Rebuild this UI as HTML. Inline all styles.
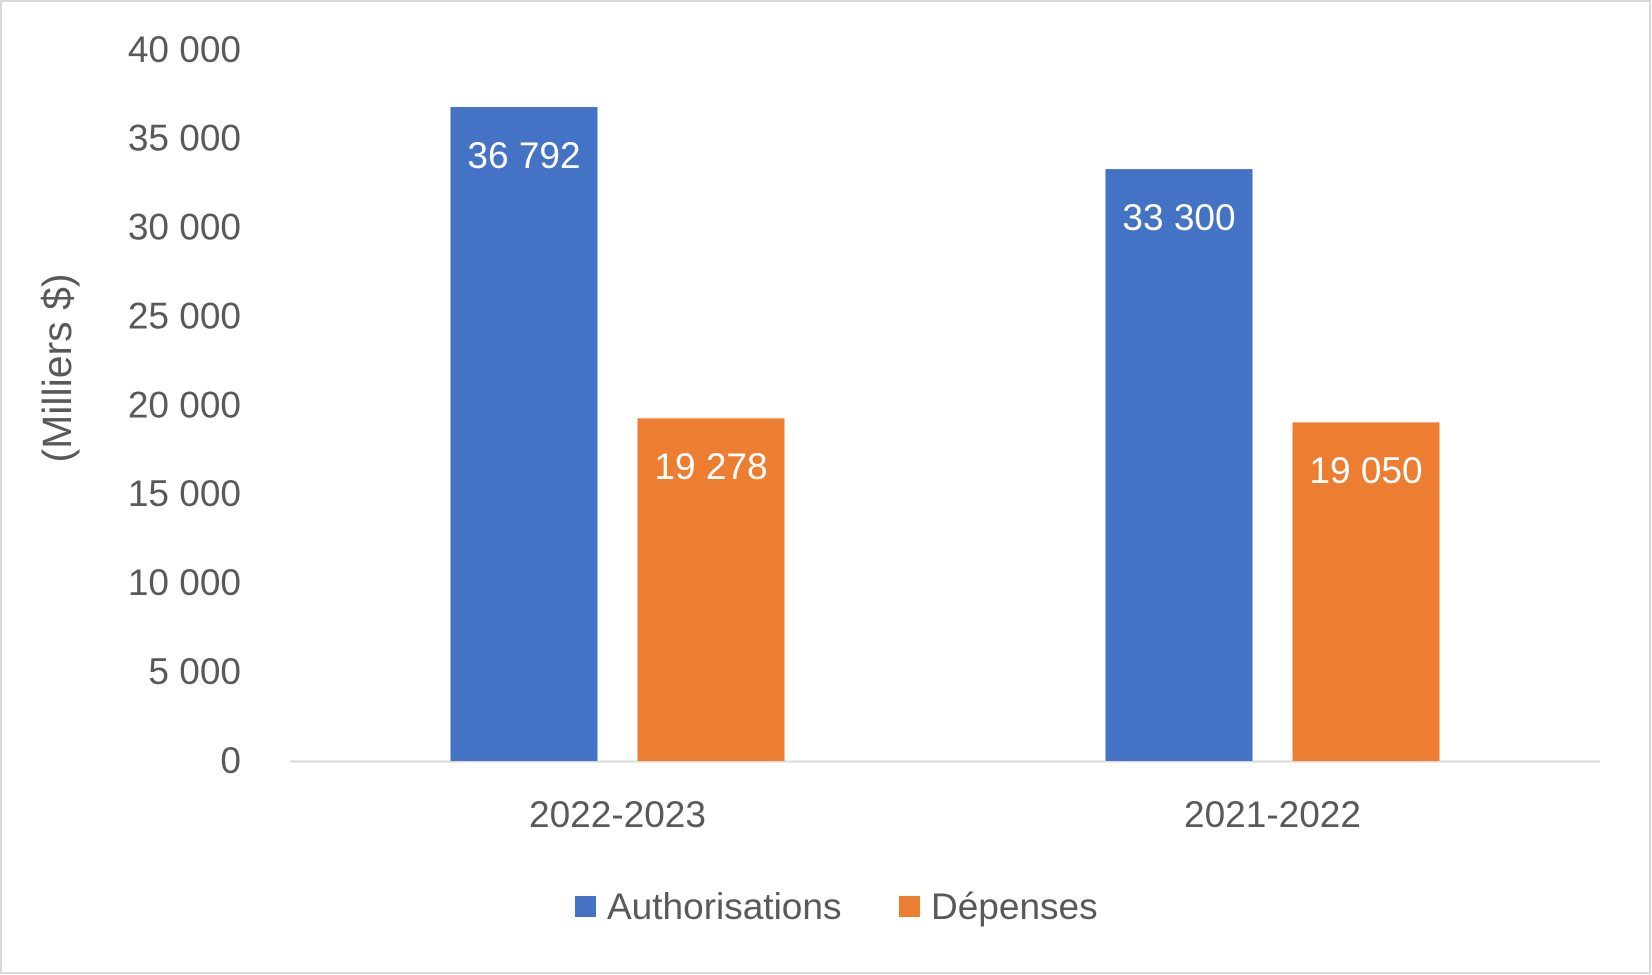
<!DOCTYPE html>
<html><head><meta charset="utf-8"><style>
html,body{margin:0;padding:0;background:#fff;}
svg{display:block;font-family:"Liberation Sans",sans-serif;}
</style></head><body>
<svg id="chart" width="1652" height="975">
<rect x="1" y="1" width="1649" height="972" fill="#fff" stroke="#d9d9d9" stroke-width="2"/>
<g id="grid"></g>
<g id="bars"></g>
<text x="60" y="368" transform="rotate(-90 60 368)" text-anchor="middle" dominant-baseline="middle" font-size="41" fill="#595959">(Milliers $)</text>
<g>
<rect x="575" y="896" width="21" height="21" fill="#4472c4"/>
<text x="607" y="909" dominant-baseline="middle" font-size="37" fill="#595959">Authorisations</text>
<rect x="899" y="896" width="21" height="21" fill="#ed7d31"/>
<text x="931" y="909" dominant-baseline="middle" font-size="37" fill="#595959">Dépenses</text>
</g>
</svg>
<script>
const categories = ["2022-2023", "2021-2022"];
const authorisations = [36792, 33300];
const depenses = [19278, 19050];
const yTicks = [0, 5000, 10000, 15000, 20000, 25000, 30000, 35000, 40000];
const ns = "http://www.w3.org/2000/svg";
const y0 = 761, yTop = 50, yMax = 40000;
function y(v){ return y0 - (v / yMax) * (y0 - yTop); }
const plotL = 290, plotR = 1600;
const bandW = (plotR - plotL) / categories.length;
function fmt(v){ return String(v).replace(/\B(?=(\d{3})+(?!\d))/g, " "); }
const grid = document.getElementById("grid");
const bars = document.getElementById("bars");
yTicks.forEach(t => {
  const tx = document.createElementNS(ns, "text");
  tx.setAttribute("x", 241); tx.setAttribute("y", y(t) + 2);
  tx.setAttribute("text-anchor", "end"); tx.setAttribute("dominant-baseline", "middle");
  tx.setAttribute("font-size", "37"); tx.setAttribute("fill", "#595959");
  tx.textContent = fmt(t);
  
  
  grid.appendChild(tx);
});
const axis = document.createElementNS(ns, "line");
axis.setAttribute("x1", plotL); axis.setAttribute("x2", plotR);
axis.setAttribute("y1", y0 + 0.5); axis.setAttribute("y2", y0 + 0.5);
axis.setAttribute("stroke", "#d9d9d9"); axis.setAttribute("stroke-width", "2");


grid.appendChild(axis);
const barW = 147, gap = 40;
const series = [{vals: authorisations, color: "#4472c4", name: "authorisations"}, {vals: depenses, color: "#ed7d31", name: "depenses"}];
categories.forEach((c, i) => {
  const cx = plotL + bandW * (i + 0.5);
  const startX = cx - barW - gap / 2;
  series.forEach((s, j) => {
    const x = startX + j * (barW + gap);
    const v = s.vals[i];
    const r = document.createElementNS(ns, "rect");
    r.setAttribute("x", x); r.setAttribute("y", y(v));
    r.setAttribute("width", barW); r.setAttribute("height", y0 - y(v));
    r.setAttribute("fill", s.color);
    
    
    bars.appendChild(r);
    const lb = document.createElementNS(ns, "text");
    lb.setAttribute("x", x + barW / 2); lb.setAttribute("y", y(v) + 51);
    lb.setAttribute("text-anchor", "middle"); lb.setAttribute("dominant-baseline", "middle");
    lb.setAttribute("font-size", "37"); lb.setAttribute("fill", "#fff");
    lb.textContent = fmt(v);
    
    
    bars.appendChild(lb);
  });
  const cl = document.createElementNS(ns, "text");
  cl.setAttribute("x", cx); cl.setAttribute("y", 817);
  cl.setAttribute("text-anchor", "middle"); cl.setAttribute("dominant-baseline", "middle");
  cl.setAttribute("font-size", "37"); cl.setAttribute("fill", "#595959");
  cl.textContent = c;
  
  
  bars.appendChild(cl);
});
</script>
</body></html>
